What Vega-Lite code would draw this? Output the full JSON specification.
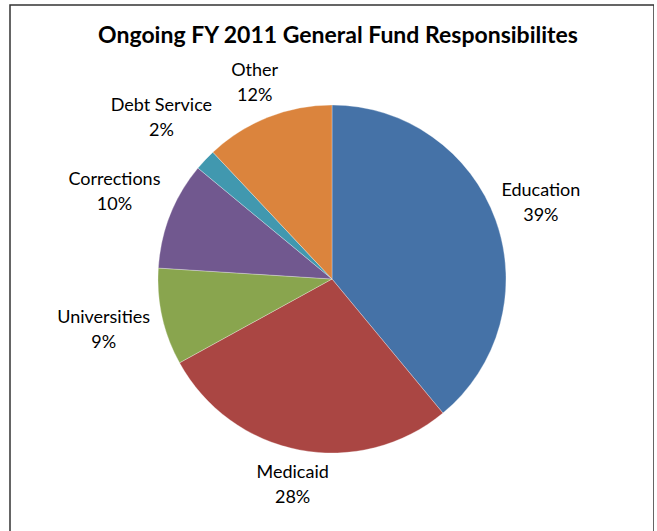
{
  "$schema": "https://vega.github.io/schema/vega-lite/v6.json",
  "autosize": "none",
  "width": 644,
  "height": 548,
  "padding": {"left": 10, "top": 5, "right": 0, "bottom": 0},
  "background": "#ffffff",
  "title": {
    "text": "Ongoing FY 2011 General Fund Responsibilites",
    "font": "Lato",
    "fontSize": 23,
    "fontWeight": "bold",
    "color": "#000000",
    "anchor": "middle",
    "baseline": "alphabetic",
    "offset": -62,
    "dx": 6
  },
  "config": {
    "view": {"stroke": null},
    "text": {"font": "Lato", "fontSize": 18, "color": "#000000"}
  },
  "datasets": {
    "budget": [
      {"category": "Education", "share": 0.39, "rank": 1},
      {"category": "Medicaid", "share": 0.28, "rank": 2},
      {"category": "Universities", "share": 0.09, "rank": 3},
      {"category": "Corrections", "share": 0.10, "rank": 4},
      {"category": "Debt Service", "share": 0.02, "rank": 5},
      {"category": "Other", "share": 0.12, "rank": 6}
    ]
  },
  "layer": [
    {
      "data": {"values": [{"frame": 1}]},
      "mark": {"type": "rect", "fill": null, "stroke": "#333333", "strokeWidth": 1.5},
      "encoding": {
        "x": {"value": 0},
        "x2": {"value": "width"},
        "y": {"value": 0},
        "y2": {"value": "height"}
      }
    },
    {
      "data": {"name": "budget"},
      "encoding": {
        "theta": {"field": "share", "type": "quantitative", "stack": true},
        "order": {"field": "rank", "type": "ordinal", "sort": "ascending"}
      },
      "layer": [
        {
          "mark": {"type": "arc", "outerRadius": 174, "stroke": "#ffffff", "strokeWidth": 0.3},
          "encoding": {
            "color": {
              "field": "category",
              "type": "nominal",
              "legend": null,
              "scale": {
                "domain": ["Education", "Medicaid", "Universities", "Corrections", "Debt Service", "Other"],
                "range": ["#4572A7", "#AA4643", "#89A54E", "#71588F", "#4198AF", "#DB843D"]
              }
            }
          }
        },
        {
          "mark": {"type": "text", "radius": 222, "baseline": "middle", "align": "center", "dy": -12.5},
          "encoding": {"text": {"condition": {"test": "datum.category !== 'Education'", "value": ""}, "field": "category", "type": "nominal"}}
        },
        {
          "mark": {"type": "text", "radius": 222, "baseline": "middle", "align": "center", "dy": 12.5},
          "encoding": {"text": {"condition": {"test": "datum.category !== 'Education'", "value": ""}, "field": "share", "type": "quantitative", "format": ".0%"}}
        },
        {
          "mark": {"type": "text", "radius": 210, "baseline": "middle", "align": "center", "dy": -12.5},
          "encoding": {"text": {"condition": {"test": "datum.category !== 'Medicaid' && datum.category !== 'Other'", "value": ""}, "field": "category", "type": "nominal"}}
        },
        {
          "mark": {"type": "text", "radius": 210, "baseline": "middle", "align": "center", "dy": 12.5},
          "encoding": {"text": {"condition": {"test": "datum.category !== 'Medicaid' && datum.category !== 'Other'", "value": ""}, "field": "share", "type": "quantitative", "format": ".0%"}}
        },
        {
          "mark": {"type": "text", "radius": 234, "baseline": "middle", "align": "center", "dy": -12.5},
          "encoding": {"text": {"condition": {"test": "datum.rank < 3 || datum.rank > 5", "value": ""}, "field": "category", "type": "nominal"}}
        },
        {
          "mark": {"type": "text", "radius": 234, "baseline": "middle", "align": "center", "dy": 12.5},
          "encoding": {"text": {"condition": {"test": "datum.rank < 3 || datum.rank > 5", "value": ""}, "field": "share", "type": "quantitative", "format": ".0%"}}
        }
      ]
    }
  ]
}
